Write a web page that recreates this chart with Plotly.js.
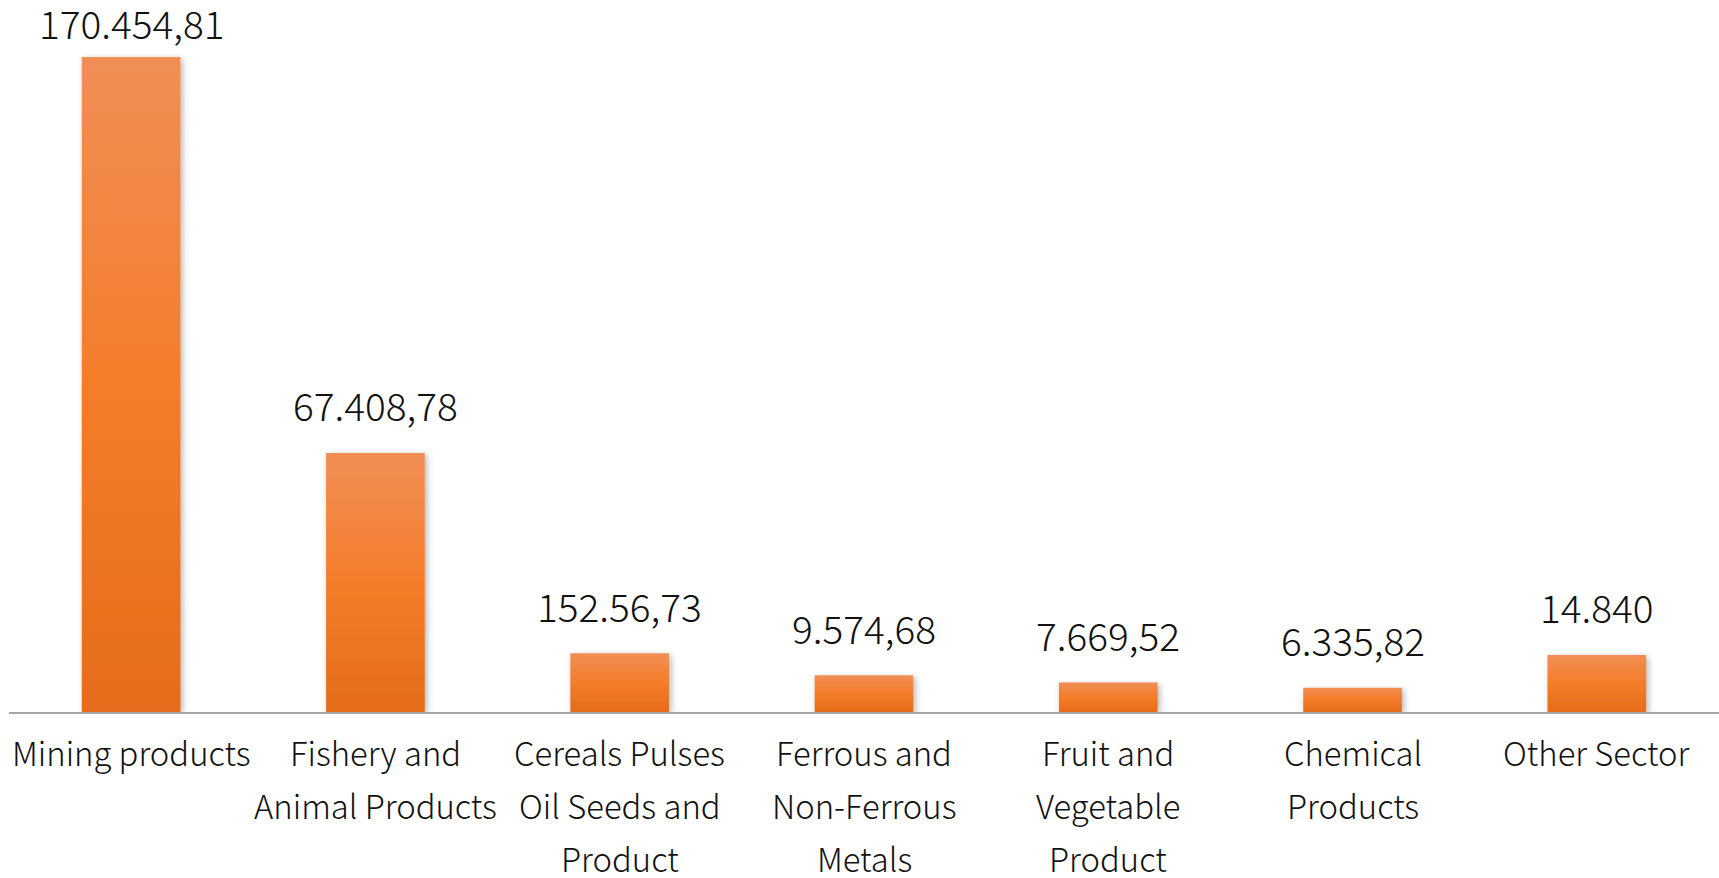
<!DOCTYPE html>
<html>
<head>
<meta charset="utf-8">
<script src="https://cdn.plot.ly/plotly-3.0.1.min.js"></script>
<style>
  html, body { margin: 0; padding: 0; background: #fff; }
  #chart { width: 1719px; height: 878px; }
</style>
</head>
<body>
<div id="chart"></div>
<script>
// ---- data ----
const categories = [
  "Mining products",
  "Fishery and<br>Animal Products",
  "Cereals Pulses<br>Oil Seeds and<br>Product",
  "Ferrous and<br>Non-Ferrous<br>Metals",
  "Fruit and<br>Vegetable<br>Product",
  "Chemical<br>Products",
  "Other Sector"
];
const values = [170454.81, 67408.78, 15256.73, 9574.68, 7669.52, 6335.82, 14840];
const valueLabels = ["170.454,81", "67.408,78", "152.56,73", "9.574,68", "7.669,52", "6.335,82", "14.840"];

// ---- layout constants ----
const W = 1719, H = 878;
const margin = { l: 9, r: 0, t: 0, b: 166 };
const plotH = H - margin.t - margin.b;
const yMax = 185290;
const FONT = '"Noto Sans CJK JP", "Noto Sans", sans-serif';

const annotations = [];
// category labels, one annotation per line
categories.forEach((cat, i) => {
  cat.split("<br>").forEach((line, j) => {
    annotations.push({
      x: i, xref: "x", y: 0, yref: "y",
      text: line, showarrow: false,
      xanchor: "center", yanchor: "middle",
      yshift: -(39 + j * 53.4),
      font: { family: FONT, size: 32.8, weight: 300, color: "#111" }
    });
  });
});
// value labels above bars, kept inside chart top
values.forEach((v, i) => {
  const barTopPx = plotH * (1 - v / yMax);
  let shift = 48.5;
  if (barTopPx - shift < 22) shift = barTopPx - 22;
  annotations.push({
    x: i, xref: "x", y: v, yref: "y",
    text: valueLabels[i], showarrow: false,
    xanchor: "center", yanchor: "middle",
    yshift: shift,
    font: { family: FONT, size: 38.8, weight: 300, color: "#111" }
  });
});

const trace = {
  type: "bar",
  x: categories.map((c, i) => i),
  y: values,
  marker: { color: "#F27B2B", line: { width: 0 } },
  hoverinfo: "none"
};

const layout = {
  width: W, height: H,
  margin: margin,
  paper_bgcolor: "#fff",
  plot_bgcolor: "#fff",
  showlegend: false,
  bargap: 0.596,
  xaxis: {
    type: "linear",
    range: [-0.5, categories.length - 0.5],
    showticklabels: false, ticks: "",
    showgrid: false, zeroline: false,
    showline: true, linecolor: "#A6A6A6", linewidth: 2
  },
  yaxis: {
    range: [0, yMax],
    visible: false, showgrid: false, zeroline: false
  },
  annotations: annotations
};

Plotly.newPlot("chart", [trace], layout, { staticPlot: true, displayModeBar: false }).then(gd => {
  const svg = gd.querySelector(".main-svg");
  let defs = svg.querySelector("defs");
  const ns = "http://www.w3.org/2000/svg";
  const grad = document.createElementNS(ns, "linearGradient");
  grad.setAttribute("id", "barGrad");
  grad.setAttribute("x1", "0"); grad.setAttribute("y1", "0");
  grad.setAttribute("x2", "0"); grad.setAttribute("y2", "1");
  [["0%", "#F18E56"], ["50%", "#F47D2A"], ["100%", "#E46C1A"]].forEach(([o, c]) => {
    const s = document.createElementNS(ns, "stop");
    s.setAttribute("offset", o); s.setAttribute("stop-color", c);
    grad.appendChild(s);
  });
  defs.appendChild(grad);
  const filt = document.createElementNS(ns, "filter");
  filt.setAttribute("id", "barShadow");
  filt.setAttribute("x", "-20%"); filt.setAttribute("y", "-5%");
  filt.setAttribute("width", "150%"); filt.setAttribute("height", "115%");
  const ds = document.createElementNS(ns, "feDropShadow");
  ds.setAttribute("dx", "2"); ds.setAttribute("dy", "2");
  ds.setAttribute("stdDeviation", "3");
  ds.setAttribute("flood-color", "#000"); ds.setAttribute("flood-opacity", "0.3");
  filt.appendChild(ds);
  defs.appendChild(filt);
  gd.querySelectorAll(".bars .point path").forEach(p => {
    p.style.fill = "url(#barGrad)";
    p.setAttribute("filter", "url(#barShadow)");
  });
});
</script>
</body>
</html>
